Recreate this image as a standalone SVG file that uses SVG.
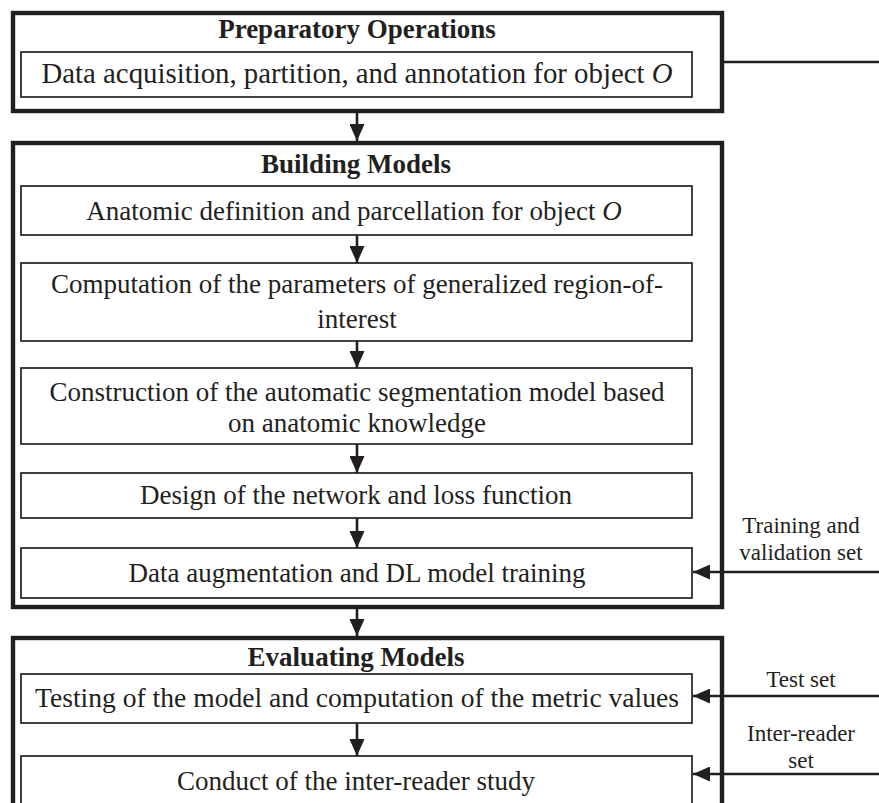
<svg xmlns="http://www.w3.org/2000/svg" width="879" height="803" viewBox="0 0 879 803">
<style>
.outer{fill:none;stroke:#231f20;stroke-width:4.4}
.inner{fill:#fff;stroke:#231f20;stroke-width:1.7}
.t{font-family:"Liberation Serif","Times New Roman",serif;font-size:27px;fill:#231f20;text-anchor:middle}
.h{font-family:"Liberation Serif","Times New Roman",serif;font-size:27px;font-weight:bold;fill:#231f20;text-anchor:middle}
.s{font-family:"Liberation Serif","Times New Roman",serif;font-size:23px;fill:#231f20;text-anchor:middle}
.c{fill:none;stroke:#231f20;stroke-width:2.6}
</style>
<defs>
<marker id="ah" markerUnits="userSpaceOnUse" markerWidth="17" markerHeight="15" refX="17" refY="7.5" orient="auto">
<path d="M0,0 L17,7.5 L0,15 z" fill="#231f20"/>
</marker>
</defs>
<rect width="879" height="803" fill="#fff"/>
<g id="preparatory">
<rect class="outer" x="13" y="13" width="709" height="98"/>
<text class="h" x="357" y="38">Preparatory Operations</text>
</g>
<g id="data-acquisition">
<rect class="inner" x="21" y="52" width="671" height="45"/>
<text class="t" x="357" y="83" style="font-size:28.8px">Data acquisition, partition, and annotation for object <tspan font-style="italic">O</tspan></text>
</g>
<g id="building">
<rect class="outer" x="13" y="143" width="709" height="464"/>
<text class="h" x="356" y="173">Building Models</text>
</g>
<g id="anatomic">
<rect class="inner" x="21" y="186" width="671" height="49"/>
<text class="t" x="354" y="220">Anatomic definition and parcellation for object <tspan font-style="italic">O</tspan></text>
</g>
<g id="computation">
<rect class="inner" x="21" y="263" width="671" height="78"/>
<text class="t" x="357" y="293">Computation of the parameters of generalized region-of-</text>
<text class="t" x="357" y="328">interest</text>
</g>
<g id="construction">
<rect class="inner" x="21" y="368" width="671" height="76"/>
<text class="t" x="357" y="401">Construction of the automatic segmentation model based</text>
<text class="t" x="357" y="432">on anatomic knowledge</text>
</g>
<g id="design">
<rect class="inner" x="21" y="473" width="671" height="45"/>
<text class="t" x="356" y="504">Design of the network and loss function</text>
</g>
<g id="augmentation">
<rect class="inner" x="21" y="548" width="671" height="50"/>
<text class="t" x="357" y="582">Data augmentation and DL model training</text>
</g>
<g id="evaluating">
<rect class="outer" x="13" y="638" width="709" height="180"/>
<text class="h" x="356" y="666">Evaluating Models</text>
</g>
<g id="testing">
<rect class="inner" x="21" y="674" width="671" height="49"/>
<text class="t" x="357" y="707" style="font-size:27.6px">Testing of the model and computation of the metric values</text>
</g>
<g id="conduct">
<rect class="inner" x="21" y="756" width="671" height="60"/>
<text class="t" x="356" y="790">Conduct of the inter-reader study</text>
</g>
<g id="labels">
<text class="s" x="801" y="533">Training and</text>
<text class="s" x="801" y="560">validation set</text>
<text class="s" x="801" y="687">Test set</text>
<text class="s" x="801" y="741">Inter-reader</text>
<text class="s" x="801" y="768">set</text>
</g>
<g id="connectors">
<line class="c" x1="722" y1="62" x2="879" y2="62"/>
<line class="c" x1="357" y1="111" x2="357" y2="141" marker-end="url(#ah)"/>
<line class="c" x1="357" y1="235" x2="357" y2="263" marker-end="url(#ah)"/>
<line class="c" x1="357" y1="341" x2="357" y2="368" marker-end="url(#ah)"/>
<line class="c" x1="357" y1="444" x2="357" y2="473" marker-end="url(#ah)"/>
<line class="c" x1="357" y1="518" x2="357" y2="548" marker-end="url(#ah)"/>
<line class="c" x1="357" y1="607" x2="357" y2="636" marker-end="url(#ah)"/>
<line class="c" x1="357" y1="723" x2="357" y2="756" marker-end="url(#ah)"/>
<line class="c" x1="879" y1="572" x2="693" y2="572" marker-end="url(#ah)"/>
<line class="c" x1="879" y1="696" x2="693" y2="696" marker-end="url(#ah)"/>
<line class="c" x1="879" y1="774" x2="693" y2="774" marker-end="url(#ah)"/>
</g>
</svg>
